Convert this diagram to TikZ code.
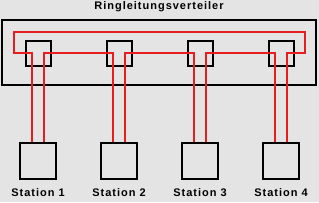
\documentclass[tikz,border=0pt]{standalone}
\usepackage{fontspec}
\setmainfont{Liberation Sans}[LetterSpace=9]
\definecolor{bgc}{RGB}{228,228,228}
\definecolor{wirec}{RGB}{232,30,30}
\begin{document}
\begin{tikzpicture}[x=1pt,y=-1pt,
  bx/.style={draw=black,line width=2pt,minimum size=25pt,inner sep=0pt,fill=bgc},
  st/.style={draw=black,line width=2pt,minimum size=36pt,inner sep=0pt},
  lbl/.style={font=\fontsize{11}{13}\selectfont\bfseries,anchor=base,inner sep=0pt},
  wire/.style={draw=wirec,line width=1.6pt}]
\fill[bgc] (0,0) rectangle (319,202);
\useasboundingbox (0,0) rectangle (319,202);
\node[lbl] (title) at (159,9.7) {Ringleitungsverteiler};
\node[draw=black,line width=2pt,minimum width=314pt,minimum height=65pt,inner sep=0pt] (dist) at (159,52.5) {};
\foreach \i/\x in {1/38,2/119,3/200,4/281}{
  \node[bx] (d\i) at (\x,53) {};
  \node[st] (s\i) at (\x,160.5) {};
  \node[lbl] (l\i) at (\x,196.5) {Station \i};
}
\coordinate (rl) at (14,53);
\coordinate (rtl) at (14,32);
\coordinate (rtr) at (305,32);
\coordinate (rr) at (305,53);
\draw[wire] ([xshift=-6pt]s1.north) -- ([xshift=-6pt]d1.center) -- (rl) -- (rtl) -- (rtr) -- (rr) -- ([xshift=6pt]d4.center) -- ([xshift=6pt]s4.north);
\draw[wire] ([xshift=6pt]s1.north) -- ([xshift=6pt]d1.center) -- ([xshift=-6pt]d2.center) -- ([xshift=-6pt]s2.north);
\draw[wire] ([xshift=6pt]s2.north) -- ([xshift=6pt]d2.center) -- ([xshift=-6pt]d3.center) -- ([xshift=-6pt]s3.north);
\draw[wire] ([xshift=6pt]s3.north) -- ([xshift=6pt]d3.center) -- ([xshift=-6pt]d4.center) -- ([xshift=-6pt]s4.north);
\end{tikzpicture}
\end{document}
